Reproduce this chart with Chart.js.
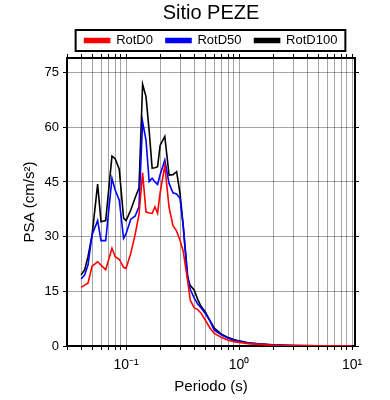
<!DOCTYPE html>
<html>
<head>
<meta charset="utf-8">
<script src="https://cdn.jsdelivr.net/npm/chart.js@4.4.1/dist/chart.umd.min.js"></script>
<style>
  body { margin: 0; background: #fff; }
  #wrap { width: 390px; height: 400px; }
</style>
</head>
<body>
<div id="wrap"><canvas id="psaChart" width="390" height="400"></canvas></div>
<script>
// periods (s) and spectral values (cm/s2)
var periods = [0.04, 0.043, 0.046, 0.05, 0.056, 0.06, 0.066, 0.075, 0.08, 0.087, 0.095, 0.1,
    0.11, 0.12, 0.13, 0.14, 0.15, 0.16, 0.17, 0.18, 0.19, 0.2, 0.22, 0.24, 0.26, 0.28, 0.3,
    0.32, 0.35, 0.37, 0.4, 0.43, 0.46, 0.5, 0.55, 0.6, 0.7, 0.8, 0.9, 1, 1.2, 1.5, 2, 3, 4, 5, 7.5, 10];

var rotD0 = [16.1, 16.7, 17.2, 21.9, 23.1, 22.2, 20.9, 26.8, 24.5, 23.8, 21.6, 21.3,
    25.4, 30.5, 36.0, 47.5, 36.8, 36.5, 36.4, 38.2, 36.4, 42.0, 49.5, 38.0, 33.0, 31.5, 29.0,
    26.0, 18.0, 12.5, 10.5, 10.0, 9.0, 7.2, 5.0, 3.5, 2.3, 1.6, 1.2, 1.0, 0.65, 0.45, 0.22, 0.12, 0.07, 0.05, 0.025, 0.015];

var rotD50 = [18.4, 19.5, 22.2, 30.5, 34.4, 28.9, 28.9, 46.0, 42.8, 40.0, 29.5, 30.8,
    34.8, 35.6, 38.2, 61.5, 56.5, 45.1, 46.0, 45.0, 44.3, 47.0, 51.0, 44.6, 42.0, 41.7, 40.5,
    33.0, 19.5, 15.5, 13.2, 11.5, 10.5, 9.0, 7.0, 4.4, 3.0, 2.1, 1.6, 1.3, 0.8, 0.55, 0.28, 0.14, 0.08, 0.055, 0.03, 0.02];

var rotD100 = [19.5, 20.9, 24.5, 30.4, 44.4, 34.1, 34.4, 52.1, 51.4, 48.5, 35.1, 34.4,
    37.3, 40.6, 43.3, 71.8, 68.4, 59.0, 48.8, 48.9, 49.2, 55.0, 57.5, 46.9, 47.0, 47.8, 41.8,
    33.0, 18.5, 16.6, 15.4, 12.8, 10.9, 9.5, 7.0, 5.0, 3.2, 2.3, 1.8, 1.4, 0.9, 0.6, 0.3, 0.15, 0.09, 0.06, 0.03, 0.02];

var seriesNames = ['RotD0', 'RotD50', 'RotD100'];
var seriesColors = ['#ff0000', '#0000ff', '#000000'];
var yTicks = [0, 15, 30, 45, 60, 75];
var xLabels = { '0.1': '10\u207B\u00B9', '1': '10\u2070', '10': '10\u00B9' };

var fontFam = "'Liberation Sans', Arial, Helvetica, sans-serif";
var gridColor = 'rgba(0,0,0,0.35)';

function toPoints(vals) {
    return periods.map((p, i) => ({ x: p, y: vals[i] }));
}

// keep only the n x 10^k log ticks
function logTicksOnly(scale) {
    scale.ticks = scale.ticks.filter(t => {
        var e = Math.floor(Math.log10(t.value) + 1e-9);
        var s = t.value / Math.pow(10, e);
        return Math.abs(s - Math.round(s)) < 1e-6;
    });
}

function yTicksOnly(scale) {
    scale.ticks = yTicks.map(v => ({ value: v }));
}

// draw a frame around the legend like the original
const legendBox = {
    id: 'legendBox',
    afterDraw(chart) {
        var hb = chart.legend.legendHitBoxes;
        if (!hb || !hb.length) return;
        var left = Math.min(...hb.map(b => b.left)) - 9;
        var right = Math.max(...hb.map(b => b.left + b.width)) + 8;
        var top = hb[0].top - 4;
        var bottom = hb[0].top + hb[0].height + 4;
        var ctx = chart.ctx;
        ctx.save();
        ctx.strokeStyle = '#000';
        ctx.lineWidth = 2;
        ctx.strokeRect(left, top, right - left, bottom - top);
        ctx.restore();
    }
};

var datasets = [rotD0, rotD50, rotD100].map((vals, i) => ({
    label: seriesNames[i],
    data: toPoints(vals),
    borderColor: seriesColors[i],
    backgroundColor: seriesColors[i],
    borderWidth: 1.6,
    pointRadius: 0,
    tension: 0
}));

new Chart(document.getElementById('psaChart'), {
    type: 'line',
    data: { datasets: datasets },
    plugins: [legendBox],
    options: {
        responsive: false,
        animation: false,
        layout: { padding: { top: 1, left: 0, right: 0, bottom: 0 } },
        plugins: {
            title: {
                display: true,
                text: 'Sitio PEZE',
                fullSize: false,
                color: '#000',
                font: { family: fontFam, size: 20, weight: 'normal' },
                padding: { top: 0, bottom: -4 }
            },
            legend: {
                display: true,
                fullSize: false,
                labels: {
                    color: '#000',
                    boxWidth: 25,
                    boxHeight: 4,
                    padding: 13,
                    font: { family: fontFam, size: 13 }
                }
            },
            tooltip: { enabled: false }
        },
        scales: {
            x: {
                type: 'logarithmic',
                position: 'bottom',
                min: 0.03,
                max: 10.6,
                afterBuildTicks: logTicksOnly,
                afterFit: s => { s.height = 54; },
                border: { color: '#000', width: 2 },
                grid: { color: gridColor, tickColor: '#000', tickLength: 4 },
                ticks: {
                    autoSkip: false,
                    maxRotation: 0,
                    color: '#000',
                    padding: 7,
                    font: { family: fontFam, size: 14 },
                    callback: v => xLabels[String(v)] || ''
                },
                title: {
                    display: true,
                    text: 'Periodo (s)',
                    color: '#000',
                    font: { family: fontFam, size: 15 },
                    padding: { top: 0 }
                }
            },
            x2: {
                type: 'logarithmic',
                position: 'top',
                min: 0.03,
                max: 10.6,
                afterBuildTicks: logTicksOnly,
                afterFit: s => { s.height = 1; },
                border: { color: '#000', width: 2 },
                grid: { drawOnChartArea: false, tickColor: '#000', tickLength: 4 },
                ticks: { display: false, autoSkip: false }
            },
            y: {
                position: 'left',
                min: 0,
                max: 79,
                afterBuildTicks: yTicksOnly,
                afterFit: s => { s.width = 67; },
                border: { color: '#000', width: 2 },
                grid: { color: gridColor, tickColor: '#000', tickLength: 4 },
                ticks: {
                    color: '#000',
                    padding: 4,
                    font: { family: fontFam, size: 13 }
                },
                title: {
                    display: true,
                    text: 'PSA (cm/s\u00B2)',
                    color: '#000',
                    font: { family: fontFam, size: 15 },
                    padding: { top: 21, bottom: 0 }
                }
            },
            y2: {
                position: 'right',
                min: 0,
                max: 79,
                afterBuildTicks: yTicksOnly,
                afterFit: s => { s.width = 35; },
                border: { color: '#000', width: 2 },
                grid: { drawOnChartArea: false, tickColor: '#000', tickLength: 4 },
                ticks: { display: false }
            }
        }
    }
});
</script>
</body>
</html>
